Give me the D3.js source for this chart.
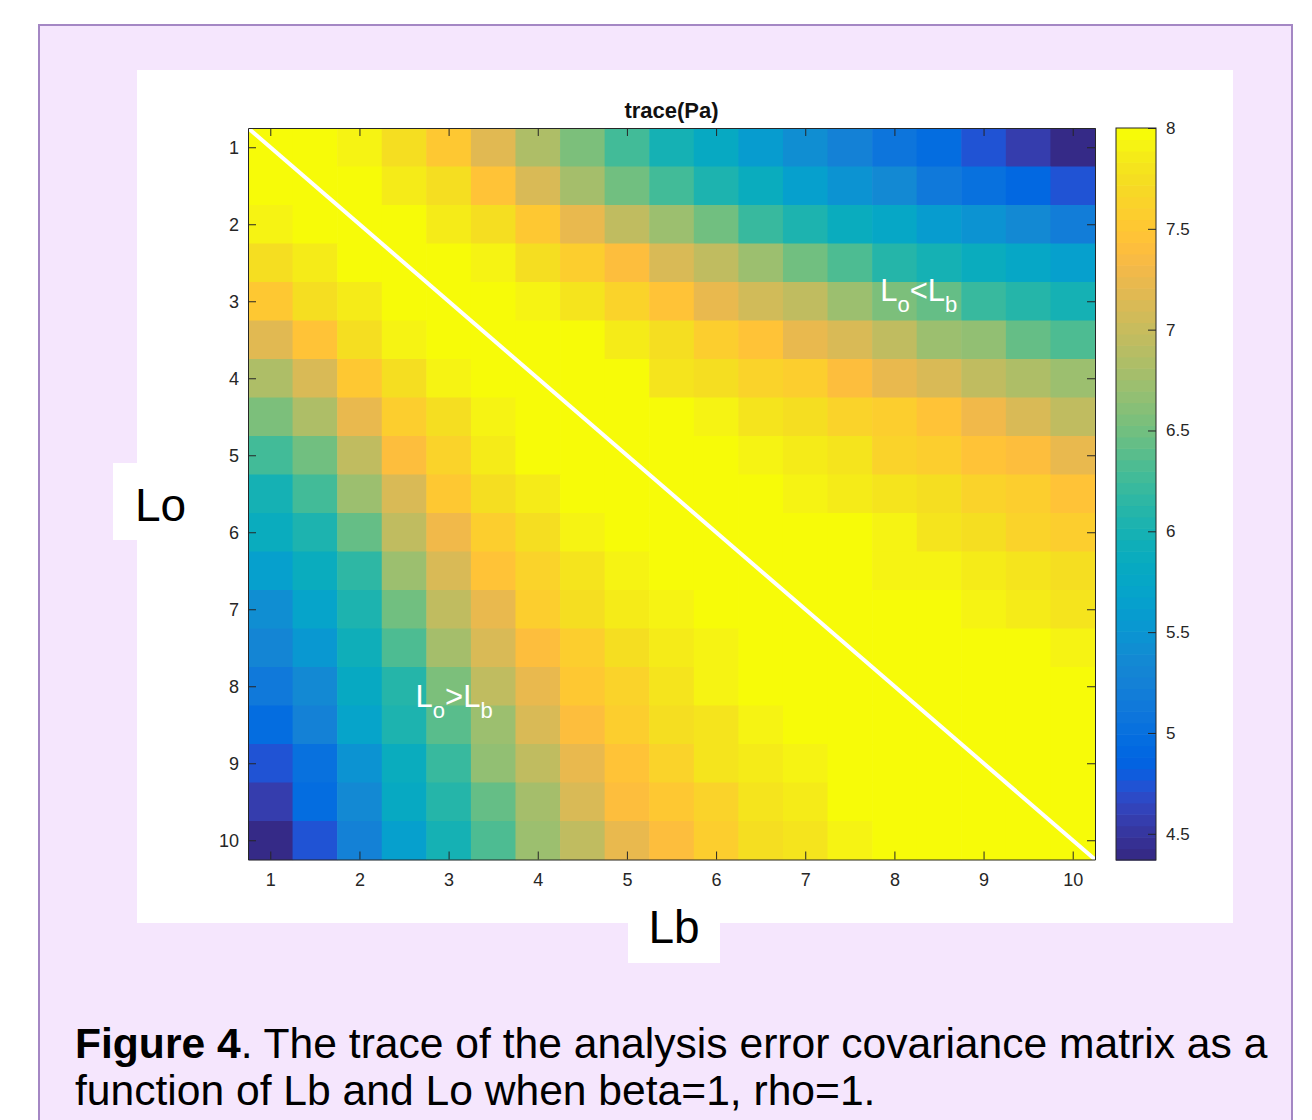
<!DOCTYPE html>
<html>
<head>
<meta charset="utf-8">
<script src="https://cdn.jsdelivr.net/npm/d3@7"></script>
<style>
body { margin: 0; background: #fff; }
text { font-family: "Liberation Sans", Arial, Helvetica, sans-serif; }
.ax path, .ax line { stroke: #262626; stroke-width: 1; }
.ax text { fill: #262626; font-size: 18px; }
</style>
</head>
<body>
<svg id="fig" width="1312" height="1120"></svg>
<script>
// grid of Lb (columns) and Lo (rows)
var lbValues = [1, 1.5, 2, 2.5, 3, 3.5, 4, 4.5, 5, 5.5, 6, 6.5, 7, 7.5, 8, 8.5, 9, 9.5, 10];
var loValues = [1, 1.5, 2, 2.5, 3, 3.5, 4, 4.5, 5, 5.5, 6, 6.5, 7, 7.5, 8, 8.5, 9, 9.5, 10];

// trace(Pa), one row per Lo value
var trace = [
  [8, 8, 7.9, 7.75, 7.5, 7.2, 6.85, 6.55, 6.25, 6.0, 5.8, 5.6, 5.4, 5.25, 5.1, 4.95, 4.75, 4.55, 4.4],
  [8, 8, 8, 7.88, 7.75, 7.45, 7.1, 6.8, 6.5, 6.25, 6.05, 5.85, 5.65, 5.5, 5.35, 5.15, 5.0, 4.92, 4.75],
  [7.9, 8, 8, 8, 7.87, 7.72, 7.5, 7.25, 6.95, 6.7, 6.5, 6.22, 6.05, 5.9, 5.75, 5.6, 5.5, 5.35, 5.2],
  [7.75, 7.87, 8, 8, 8, 7.93, 7.75, 7.55, 7.4, 7.1, 6.95, 6.7, 6.52, 6.3, 6.1, 6.0, 5.9, 5.78, 5.62],
  [7.5, 7.75, 7.88, 8, 8, 8, 7.93, 7.8, 7.62, 7.45, 7.25, 7.08, 6.95, 6.75, 6.55, 6.42, 6.22, 6.1, 6.0],
  [7.2, 7.45, 7.72, 7.92, 8, 8, 8, 7.95, 7.88, 7.72, 7.6, 7.45, 7.25, 7.1, 6.95, 6.75, 6.68, 6.45, 6.3],
  [6.85, 7.1, 7.5, 7.72, 7.92, 8, 8, 8, 7.97, 7.82, 7.72, 7.62, 7.55, 7.4, 7.25, 7.1, 6.95, 6.82, 6.7],
  [6.55, 6.82, 7.25, 7.58, 7.75, 7.94, 8, 8, 8, 7.95, 7.92, 7.8, 7.74, 7.62, 7.55, 7.45, 7.28, 7.12, 6.95],
  [6.25, 6.5, 6.95, 7.4, 7.62, 7.87, 7.95, 8, 8, 8, 7.95, 7.92, 7.88, 7.8, 7.65, 7.58, 7.45, 7.38, 7.25],
  [6.0, 6.25, 6.7, 7.1, 7.5, 7.74, 7.88, 7.95, 8, 8, 8, 8, 7.94, 7.88, 7.8, 7.74, 7.65, 7.57, 7.45],
  [5.88, 6.03, 6.45, 6.95, 7.28, 7.6, 7.76, 7.92, 7.96, 8, 8, 8, 8, 7.95, 7.93, 7.8, 7.77, 7.65, 7.6],
  [5.62, 5.88, 6.18, 6.7, 7.1, 7.45, 7.65, 7.82, 7.9, 7.97, 8, 8, 8, 8, 7.93, 7.9, 7.87, 7.8, 7.74],
  [5.42, 5.68, 6.03, 6.5, 6.95, 7.25, 7.57, 7.76, 7.88, 7.92, 8, 8, 8, 8, 8, 7.95, 7.93, 7.88, 7.8],
  [5.28, 5.52, 5.95, 6.3, 6.77, 7.1, 7.4, 7.6, 7.77, 7.87, 7.94, 8, 8, 8, 8, 8, 7.96, 7.96, 7.93],
  [5.12, 5.35, 5.8, 6.12, 6.55, 6.95, 7.25, 7.52, 7.65, 7.8, 7.92, 7.95, 8, 8, 8, 8, 8, 7.96, 7.96],
  [4.97, 5.27, 5.72, 6.05, 6.38, 6.75, 7.1, 7.4, 7.58, 7.74, 7.8, 7.9, 7.95, 8, 8, 8, 8, 8, 8],
  [4.75, 5.05, 5.5, 5.87, 6.2, 6.68, 6.95, 7.25, 7.45, 7.65, 7.78, 7.87, 7.92, 7.96, 8, 8, 8, 8, 8],
  [4.55, 4.97, 5.35, 5.8, 6.12, 6.45, 6.8, 7.1, 7.4, 7.52, 7.65, 7.8, 7.88, 7.95, 7.96, 8, 8, 8, 8],
  [4.42, 4.75, 5.27, 5.62, 5.98, 6.3, 6.7, 6.95, 7.25, 7.4, 7.6, 7.73, 7.8, 7.93, 7.96, 8, 8, 8, 8]
];

var axisTicks = [1, 2, 3, 4, 5, 6, 7, 8, 9, 10];
var colorTicks = [4.5, 5, 5.5, 6, 6.5, 7, 7.5, 8];
var climMin = 4.37, climMax = 8;

// matlab parula, 64 steps
var parula = ["#352a87","#363093","#3637a0","#353dad","#3243ba","#2c4ac7","#2053d4","#0f5cdd",
  "#0363e1","#0268e1","#046de0","#0871de","#0d75dc","#1079da","#127dd8","#1481d6",
  "#1485d4","#1389d3","#108ed2","#0c93d2","#0998d1","#079ccf","#06a0cd","#06a4ca",
  "#06a7c6","#07a9c2","#0aacbe","#0faeb9","#15b1b4","#1db3af","#25b5a9","#2eb7a4",
  "#38b99e","#42bb98","#4dbc92","#59bd8c","#65be86","#71bf80","#7cbf7b","#87bf77",
  "#92bf73","#9cbf6f","#a5be6b","#aebe67","#b7bd64","#c0bc60","#c8bc5d","#d1bb59",
  "#d9ba56","#e1b952","#e9b94e","#f1b94a","#f8bb44","#fdbe3d","#ffc337","#fec832",
  "#fcce2e","#fad32a","#f7d826","#f5de21","#f5e41d","#f5eb18","#f6f313","#f7fb08"];

var svg = d3.select("#fig");

// page frame
svg.append("rect").attr("x", 39).attr("y", 25).attr("width", 1253).attr("height", 1110)
  .attr("fill", "#f5e6fd").attr("stroke", "#a487c4").attr("stroke-width", 2);
svg.append("rect").attr("x", 137).attr("y", 70).attr("width", 1096).attr("height", 853).attr("fill", "#fff");
svg.append("rect").attr("x", 113).attr("y", 463).attr("width", 40).attr("height", 77).attr("fill", "#fff");
svg.append("rect").attr("x", 628).attr("y", 890).attr("width", 92).attr("height", 73).attr("fill", "#fff");

var x = d3.scaleLinear().domain([0.75, 10.25]).range([248, 1095]);
var y = d3.scaleLinear().domain([0.75, 10.25]).range([128, 859.5]);
var color = d3.scaleQuantize().domain([climMin, climMax]).range(parula);

var cells = [];
loValues.forEach(function(lo, i) {
  lbValues.forEach(function(lb, j) {
    cells.push({lo: lo, lb: lb, v: trace[i][j]});
  });
});

var cw = x(1.25) - x(0.75);
var ch = y(1.25) - y(0.75);

svg.append("g").selectAll("rect").data(cells).enter()
  .append("rect")
  .attr("x", d => x(d.lb - 0.25))
  .attr("y", d => y(d.lo - 0.25))
  .attr("width", cw + 0.6)
  .attr("height", ch + 0.6)
  .attr("fill", d => color(d.v));

// Lo = Lb line
svg.append("line")
  .attr("x1", x(0.75)).attr("y1", y(0.75))
  .attr("x2", x(10.25)).attr("y2", y(10.25))
  .attr("stroke", "#fff").attr("stroke-width", 4);

// labels inside the map
function region(lb, lo, op) {
  var t = svg.append("text").attr("x", x(lb)).attr("y", y(lo))
    .attr("fill", "#fff").attr("font-size", 31);
  t.append("tspan").text("L");
  t.append("tspan").attr("font-size", 22).attr("dy", 11).text("o");
  t.append("tspan").attr("dy", -11).text(op);
  t.append("tspan").text("L");
  t.append("tspan").attr("font-size", 22).attr("dy", 11).text("b");
}
region(7.84, 3.0, "<");
region(2.63, 8.27, ">");

// axes, ticks pointing in
svg.append("g").attr("class", "ax")
  .attr("transform", "translate(0,859.5)")
  .call(d3.axisBottom(x).tickValues(axisTicks).tickSizeInner(-8).tickSizeOuter(0).tickPadding(14));
svg.append("g").attr("class", "ax")
  .attr("transform", "translate(0,128)")
  .call(d3.axisTop(x).tickValues(axisTicks).tickSizeInner(-8).tickSizeOuter(0).tickFormat(""));
svg.append("g").attr("class", "ax")
  .attr("transform", "translate(248,0)")
  .call(d3.axisLeft(y).tickValues(axisTicks).tickSizeInner(-8).tickSizeOuter(0).tickPadding(9));
svg.append("g").attr("class", "ax")
  .attr("transform", "translate(1095,0)")
  .call(d3.axisRight(y).tickValues(axisTicks).tickSizeInner(-8).tickSizeOuter(0).tickFormat(""));

svg.append("text").attr("x", (248 + 1095) / 2).attr("y", 118)
  .attr("text-anchor", "middle").attr("font-size", 22).attr("font-weight", "bold")
  .attr("fill", "#111").text("trace(Pa)");

// colorbar
var cScale = d3.scaleLinear().domain([climMin, climMax]).range([860, 128]);
var step = (climMax - climMin) / parula.length;
svg.append("g").selectAll("rect").data(parula).enter()
  .append("rect")
  .attr("x", 1116).attr("width", 40)
  .attr("y", (c, i) => cScale(climMin + (i + 1) * step))
  .attr("height", cScale(climMin) - cScale(climMin + step) + 0.6)
  .attr("fill", c => c);
svg.append("rect").attr("x", 1116).attr("y", 128).attr("width", 40).attr("height", 732)
  .attr("fill", "none").attr("stroke", "#262626");
svg.append("g").attr("class", "ax")
  .attr("transform", "translate(1156,0)")
  .call(d3.axisRight(cScale).tickValues(colorTicks).tickSizeInner(-8).tickSizeOuter(0)
    .tickPadding(10).tickFormat(d3.format("~g")))
  .call(g => g.select(".domain").remove())
  .selectAll("text").style("font-size", "17px");

// axis names
svg.append("text").attr("x", 135).attr("y", 521).attr("font-size", 46).attr("fill", "#000").text("Lo");
svg.append("text").attr("x", 674).attr("y", 943).attr("text-anchor", "middle")
  .attr("font-size", 46).attr("fill", "#000").text("Lb");

// caption
var cap = svg.append("text").attr("x", 75).attr("y", 1058).attr("font-size", 42.6).attr("fill", "#000");
cap.append("tspan").attr("font-weight", "bold").text("Figure 4");
cap.append("tspan").text(". The trace of the analysis error covariance matrix as a");
svg.append("text").attr("x", 75).attr("y", 1105).attr("font-size", 42.6).attr("fill", "#000")
  .text("function of Lb and Lo when beta=1, rho=1.");
</script>
</body>
</html>
